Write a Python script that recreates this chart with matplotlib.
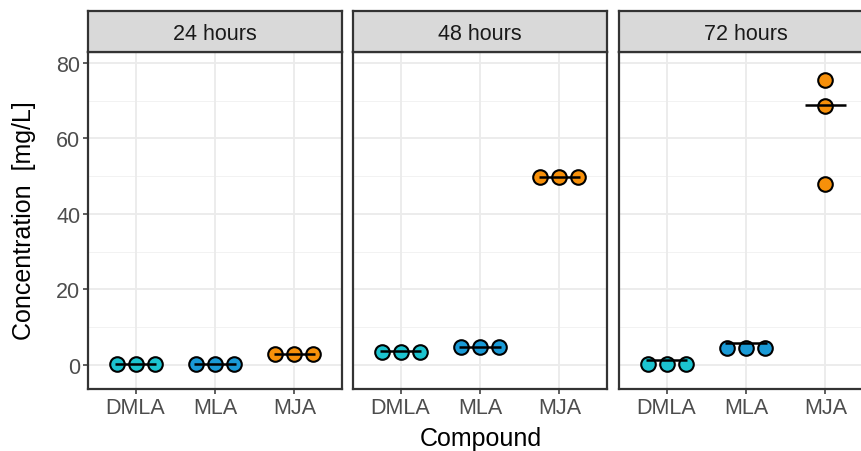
import matplotlib.pyplot as plt

plt.rcParams['font.family'] = ['Liberation Sans', 'DejaVu Sans']

# Dados
tempos = ["24 hours", "48 hours", "72 hours"]
compostos = ["DMLA", "MLA", "MJA"]
cores = ["#1CC3CF", "#1A9AD6", "#F7900A"]

valores_24h = [[0.3, 0.3, 0.3], [0.3, 0.3, 0.3], [2.9, 2.9, 2.9]]
valores_48h = [[3.5, 3.5, 3.5], [4.6, 4.6, 4.6], [49.7, 49.7, 49.7]]
valores_72h = [[0.3, 0.3, 0.3], [4.4, 4.4, 4.4], [75.5, 68.5, 47.9]]

medianas_24h = [0.3, 0.3, 2.9]
medianas_48h = [3.6, 4.8, 49.7]
medianas_72h = [1.3, 5.8, 68.9]

valores = [valores_24h, valores_48h, valores_72h]
medianas = [medianas_24h, medianas_48h, medianas_72h]

# pontos iguais ficam lado a lado, pontos distintos ficam empilhados
lado_a_lado = [-0.24, 0.0, 0.24]
empilhado = [0.0, 0.0, 0.0]

W, H = 862, 452
fig = plt.figure(figsize=(W / 100, H / 100), dpi=100)

esquerdas = [88, 353, 619]
largura = 254
topo, base, topo_faixa = 53, 390, 12
borda = "#333333"

for i, tempo in enumerate(tempos):
    x0 = esquerdas[i] / W
    ax = fig.add_axes([x0, 1 - base / H, largura / W, (base - topo) / H])
    ax.set_xlim(0.4, 3.6)
    ax.set_ylim(-6.4, 82.9)

    # grade
    for y in [10, 30, 50, 70]:
        ax.axhline(y, color="#F2F2F2", lw=0.7, zorder=0)
    for y in [0, 20, 40, 60, 80]:
        ax.axhline(y, color="#EBEBEB", lw=1.3, zorder=0)
    for x in [1, 2, 3]:
        ax.axvline(x, color="#EBEBEB", lw=1.3, zorder=0)

    for j, comp in enumerate(compostos):
        vals = valores[i][j]
        desl = lado_a_lado if len(set(vals)) == 1 else empilhado
        xs = [j + 1 + d for d in desl]
        ax.scatter(xs, vals, s=110, color=cores[j], edgecolor="black",
                   linewidth=1.5, zorder=3)
        ax.plot([j + 1 - 0.26, j + 1 + 0.26], [medianas[i][j]] * 2,
                color="black", lw=1.8, zorder=4, solid_capstyle="butt")

    ax.set_xticks([1, 2, 3])
    ax.set_xticklabels(compostos)
    ax.set_yticks([0, 20, 40, 60, 80])
    ax.tick_params(colors=borda, labelcolor="#4D4D4D", labelsize=15.5,
                   length=3.5, width=1.1, pad=2)
    if i > 0:
        ax.tick_params(axis="y", left=False, labelleft=False)
    for s in ax.spines.values():
        s.set_color(borda)
        s.set_linewidth(1.6)

    # faixa do facet
    axs = fig.add_axes([x0, 1 - topo / H, largura / W, (topo - topo_faixa) / H])
    axs.set_xticks([])
    axs.set_yticks([])
    axs.set_facecolor("#D9D9D9")
    for s in axs.spines.values():
        s.set_color(borda)
        s.set_linewidth(1.6)
    axs.text(0.5, 0.45, tempo, ha="center", va="center", fontsize=15.5,
             color="#1A1A1A", transform=axs.transAxes)

fig.text((88 + 873) / 2 / W, 1 - 439 / H, "Compound", ha="center", va="center",
         fontsize=18, color="black")
fig.text(24 / W, 1 - 221 / H, "Concentration  [mg/L]", ha="center", va="center",
         rotation=90, fontsize=18, color="black")

fig.savefig("out.png", dpi=100, facecolor="white")
